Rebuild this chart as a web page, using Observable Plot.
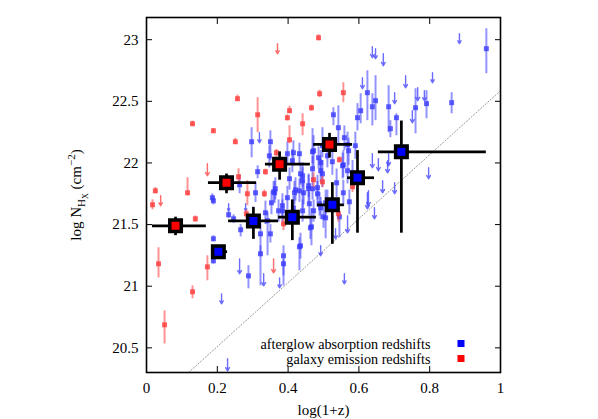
<!DOCTYPE html>
<html><head><meta charset="utf-8">
<script src="https://cdn.jsdelivr.net/npm/d3@7"></script>
<script src="https://cdn.jsdelivr.net/npm/@observablehq/plot@0.6"></script>
<style>html,body{margin:0;padding:0;background:#fff}svg{display:block}</style>
</head><body><div id="chart"></div>
<script>
const xTicks = [0, 0.2, 0.4, 0.6, 0.8, 1];
const xTickLabels = ["0", "0.2", "0.4", "0.6", "0.8", "1"];
const yTicks = [20.5, 21, 21.5, 22, 22.5, 23];
const yTickLabels = ["20.5", "21", "21.5", "22", "22.5", "23"];
const seriesNames = ["afterglow absorption redshifts", "galaxy emission redshifts"];
const seriesColors = ["#0000ff", "#ff0000"];
const xLabel = "log(1+z)";

// detections: [log(1+z), log NH, lower, upper]
const blueDetections = [
  [0.960,22.927,22.724,23.089],[0.624,22.570,22.343,22.748],[0.647,22.505,22.343,22.708],
  [0.638,22.456,22.300,22.562],[0.684,22.456,22.245,22.627],[0.760,22.448,22.237,22.602],
  [0.791,22.481,22.359,22.586],[0.862,22.489,22.399,22.570],[0.605,22.424,22.318,22.562],
  [0.596,22.367,22.260,22.481],[0.528,22.391,22.302,22.448],[0.706,22.367,22.221,22.399],
  [0.689,22.278,22.205,22.343],[0.542,22.286,22.156,22.464],[0.559,22.205,22.100,22.300],
  [0.568,22.148,22.040,22.250],[0.571,22.099,21.980,22.200],[0.525,22.010,21.900,22.120],
  [0.556,21.985,21.880,22.100],[0.537,21.839,21.720,21.950],[0.590,22.140,22.030,22.250],
  [0.472,22.099,21.961,22.221],[0.469,21.953,21.850,22.050],[0.492,22.002,21.900,22.100],
  [0.554,21.977,21.870,22.080],[0.568,21.937,21.830,22.040],[0.582,21.920,21.820,22.020],
  [0.497,21.912,21.800,22.020],[0.458,21.791,21.680,21.900],[0.483,21.799,21.700,21.900],
  [0.556,21.758,21.650,21.860],[0.483,21.750,21.640,21.850],[0.441,21.896,21.800,22.000],
  [0.573,21.685,21.580,21.780],[0.506,21.677,21.580,21.780],[0.506,21.555,21.385,21.653],
  [0.466,21.482,21.328,21.628],[0.472,21.612,21.520,21.700],[0.435,21.328,21.220,21.430],
  [0.545,21.563,21.393,21.596],[0.297,22.172,22.042,22.286],[0.350,22.172,22.018,22.261],
  [0.347,22.058,21.960,22.140],[0.415,22.083,21.980,22.180],[0.398,22.075,21.980,22.170],
  [0.412,22.018,21.920,22.110],[0.435,21.912,21.820,22.000],[0.404,21.872,21.780,21.960],
  [0.314,21.929,21.872,21.977],[0.263,21.823,21.750,21.900],[0.308,21.758,21.680,21.840],
  [0.364,21.791,21.700,21.880],[0.421,21.782,21.690,21.880],[0.432,21.774,21.680,21.870],
  [0.186,21.718,21.680,21.750],[0.189,21.693,21.660,21.730],[0.362,21.758,21.670,21.850],
  [0.353,21.677,21.580,21.770],[0.441,21.856,21.628,21.961],[0.384,21.653,21.560,21.750],
  [0.189,21.385,21.360,21.410],[0.232,21.580,21.550,21.610],[0.246,21.547,21.510,21.580],
  [0.322,21.425,21.247,21.506],[0.322,21.263,21.003,21.328],[0.288,21.084,20.979,21.166],
  [0.342,21.531,21.247,21.600],[0.387,21.247,21.084,21.328],[0.387,21.182,21.003,21.220],
  [0.432,21.320,21.125,21.393],[0.384,21.612,21.520,21.700],[0.189,21.206,21.180,21.230],
  [0.266,21.458,21.400,21.500],[0.463,21.474,21.380,21.560],[0.492,21.636,21.540,21.720],
  [0.511,21.693,21.600,21.780],[0.500,21.563,21.470,21.650],[0.350,21.425,21.350,21.500],
  [0.469,22.091,21.994,22.278],[0.497,22.140,22.042,22.286],[0.432,22.075,21.980,22.160],
  [0.486,22.042,21.950,22.130],[0.511,22.058,21.960,22.150],[0.458,21.815,21.720,21.910],
  [0.359,21.766,21.680,21.850],[0.398,21.718,21.620,21.810],[0.418,21.758,21.660,21.850],
  [0.444,21.758,21.660,21.850],[0.469,21.791,21.700,21.880],[0.492,21.937,21.840,22.030],
  [0.460,21.669,21.570,21.760],[0.441,21.612,21.520,21.700],[0.415,21.636,21.540,21.730],
  [0.489,21.669,21.570,21.760],[0.336,21.596,21.500,21.690],[0.373,21.612,21.520,21.700]
];
// upper limits: [log(1+z), limit, arrow end]
const blueLimits = [
  [0.884,23.049,22.968],[0.638,22.943,22.854],[0.647,22.927,22.846],[0.669,22.886,22.789],
  [0.610,22.692,22.602],[0.732,22.708,22.610],[0.808,22.732,22.651],[0.701,22.570,22.481],
  [0.766,22.610,22.505],[0.785,22.586,22.505],[0.751,22.424,22.326],[0.638,22.075,21.961],
  [0.655,22.034,21.937],[0.681,22.018,21.920],[0.684,22.075,21.977],[0.797,21.961,21.872],
  [0.667,21.856,21.758],[0.701,21.839,21.750],[0.627,21.774,21.653],[0.644,21.636,21.547],
  [0.568,21.571,21.433],[0.559,21.101,21.019],[0.534,21.466,21.385],[0.492,21.328,21.247],
  [0.319,22.245,22.164],[0.232,21.669,21.612],[0.280,21.669,21.612],[0.263,21.222,21.101],
  [0.212,20.938,20.857],[0.331,21.101,21.003],[0.376,21.068,20.987],[0.229,20.411,20.313],
  [0.624,21.758,21.628]
];
const redDetections = [
  [0.486,23.016,22.990,23.040],[0.489,22.562,22.530,22.590],[0.257,22.521,22.500,22.550],
  [0.314,22.391,22.245,22.529],[0.130,22.318,22.300,22.340],[0.189,22.261,22.240,22.280],
  [0.251,22.172,22.150,22.200],[0.404,22.424,22.400,22.460],[0.398,22.367,22.340,22.390],
  [0.466,22.448,22.420,22.470],[0.441,22.318,22.221,22.399],[0.404,22.188,22.156,22.302],
  [0.260,21.888,21.831,21.953],[0.336,21.929,21.900,21.950],[0.025,21.774,21.750,21.800],
  [0.116,21.758,21.734,21.880],[0.017,21.661,21.620,21.701],[0.138,21.547,21.520,21.570],
  [0.034,21.182,21.068,21.312],[0.130,20.955,20.898,21.003],[0.051,20.687,20.532,20.800],
  [0.172,21.157,21.044,21.247],[0.285,21.750,21.653,21.856],[0.333,21.750,21.720,21.780],
  [0.367,22.083,22.050,22.110],[0.545,22.026,22.000,22.050],[0.472,21.864,21.800,21.920],
  [0.497,21.847,21.800,21.890],[0.582,21.807,21.760,21.850],[0.387,21.506,21.450,21.550],
  [0.542,21.588,21.520,21.630],[0.556,22.570,22.489,22.651],[0.282,21.588,21.550,21.620]
];
const redLimits = [
  [0.370,22.968,22.886],[0.172,21.994,21.896],[0.040,21.734,21.653],[0.359,21.222,21.109]
];
// binned averages: [x, xlo, xhi, y, ylo, yhi]
const blueBins = [
  [0.203,0.186,0.229,21.28,21.22,21.33],[0.302,0.232,0.373,21.53,21.38,21.64],
  [0.412,0.373,0.480,21.56,21.37,21.70],[0.525,0.483,0.559,21.66,21.34,21.84],
  [0.596,0.568,0.644,21.88,21.43,22.10],[0.720,0.655,0.960,22.09,21.43,22.34]
];
const redBins = [
  [0.082,0.017,0.169,21.49,21.41,21.56],[0.226,0.175,0.311,21.84,21.75,21.91],
  [0.376,0.336,0.463,21.99,21.86,22.09],[0.517,0.472,0.582,22.15,22.04,22.24]
];
const diagonal = [[0.119,20.30],[1.0,22.586]];
const xDomain = [0, 1];
const yDomain = [20.3, 23.18];

const serif = "'Liberation Serif','Times New Roman',Times,serif";
const smallBlue = "#3a3aff", smallRed = "#ff3a3a";

function detMarks(data, color) {
  return [
    Plot.ruleX(data, {x: d => d[0], y1: d => d[2], y2: d => d[3], stroke: color, strokeOpacity: 0.55, strokeWidth: 2}),
    Plot.dot(data, {x: d => d[0], y: d => d[1], symbol: "square", r: 2.8, fill: color, fillOpacity: 0.8, stroke: "none"})
  ];
}
function limMarks(data, color) {
  return [Plot.arrow(data, {x1: d => d[0], y1: d => d[1], x2: d => d[0], y2: d => d[2], stroke: color, strokeOpacity: 0.75, strokeWidth: 1.4, headLength: 4})];
}
function binMarks(data, color) {
  return [
    Plot.ruleY(data, {y: d => d[3], x1: d => d[1], x2: d => d[2], stroke: "#000", strokeWidth: 2.7}),
    Plot.ruleX(data, {x: d => d[0], y1: d => d[4], y2: d => d[5], stroke: "#000", strokeWidth: 2.7}),
    Plot.dot(data, {x: d => d[0], y: d => d[3], symbol: "square", r: 6.5, fill: color, stroke: "#000", strokeWidth: 3.5})
  ];
}

const plot = Plot.plot({
  width: 598, height: 419,
  marginLeft: 146, marginRight: 98, marginTop: 17, marginBottom: 47,
  style: {fontFamily: serif, fontSize: "15px", background: "#fff", color: "#000"},
  x: {domain: xDomain, axis: null},
  y: {domain: yDomain, axis: null},
  marks: [
    Plot.line(diagonal, {x: d => d[0], y: d => d[1], stroke: "#999", strokeWidth: 1, strokeDasharray: "1.2,2"}),
    ...detMarks(blueDetections, smallBlue),
    ...limMarks(blueLimits, smallBlue),
    ...detMarks(redDetections, smallRed),
    ...limMarks(redLimits, smallRed),
    ...binMarks(blueBins, "#0000ff"),
    ...binMarks(redBins, "#ff0000"),
    Plot.axisX(xTicks, {anchor: "bottom", tickSize: -6, tickPadding: 15.5, tickFormat: d => xTickLabels[xTicks.indexOf(d)], label: null, fontSize: 15}),
    Plot.axisX(xTicks, {anchor: "top", tickSize: -6, tickFormat: () => "", label: null}),
    Plot.axisY(yTicks, {anchor: "left", tickSize: -6, tickPadding: 14, tickFormat: d => yTickLabels[yTicks.indexOf(d)], label: null, fontSize: 15}),
    Plot.axisY(yTicks, {anchor: "right", tickSize: -6, tickFormat: () => "", label: null}),
    Plot.frame({stroke: "#000", strokeWidth: 1.6}),
    Plot.text([xLabel], {frameAnchor: "bottom", dy: 38, lineAnchor: "middle", fontSize: 15}),
    Plot.text([seriesNames[0]], {frameAnchor: "bottom-right", dx: -70, dy: -28.5, textAnchor: "end", lineAnchor: "middle", fontSize: 14.2}),
    Plot.text([seriesNames[1]], {frameAnchor: "bottom-right", dx: -70, dy: -13.5, textAnchor: "end", lineAnchor: "middle", fontSize: 14.2})
  ]
});
document.getElementById("chart").appendChild(plot);

const svg = d3.select(plot);
// legend swatches
seriesColors.forEach((c, i) => {
  svg.append("rect").attr("x", 457.5).attr("y", 340 + i * 15).attr("width", 7).attr("height", 7).attr("fill", c);
});
// y-axis label with sub/superscripts
const t = svg.append("text")
  .attr("transform", "translate(81,195) rotate(-90)")
  .attr("text-anchor", "middle")
  .attr("font-family", serif).attr("font-size", 15).attr("fill", "#000");
t.append("tspan").text("log N");
t.append("tspan").attr("dy", 4).attr("font-size", 11).text("H");
t.append("tspan").attr("dy", 3).attr("font-size", 8).text("X");
t.append("tspan").attr("dy", -7).attr("font-size", 15).text(" (cm");
t.append("tspan").attr("dy", -6).attr("font-size", 11).text("\u22122");
t.append("tspan").attr("dy", 6).attr("font-size", 15).text(")");
</script>
</body></html>
